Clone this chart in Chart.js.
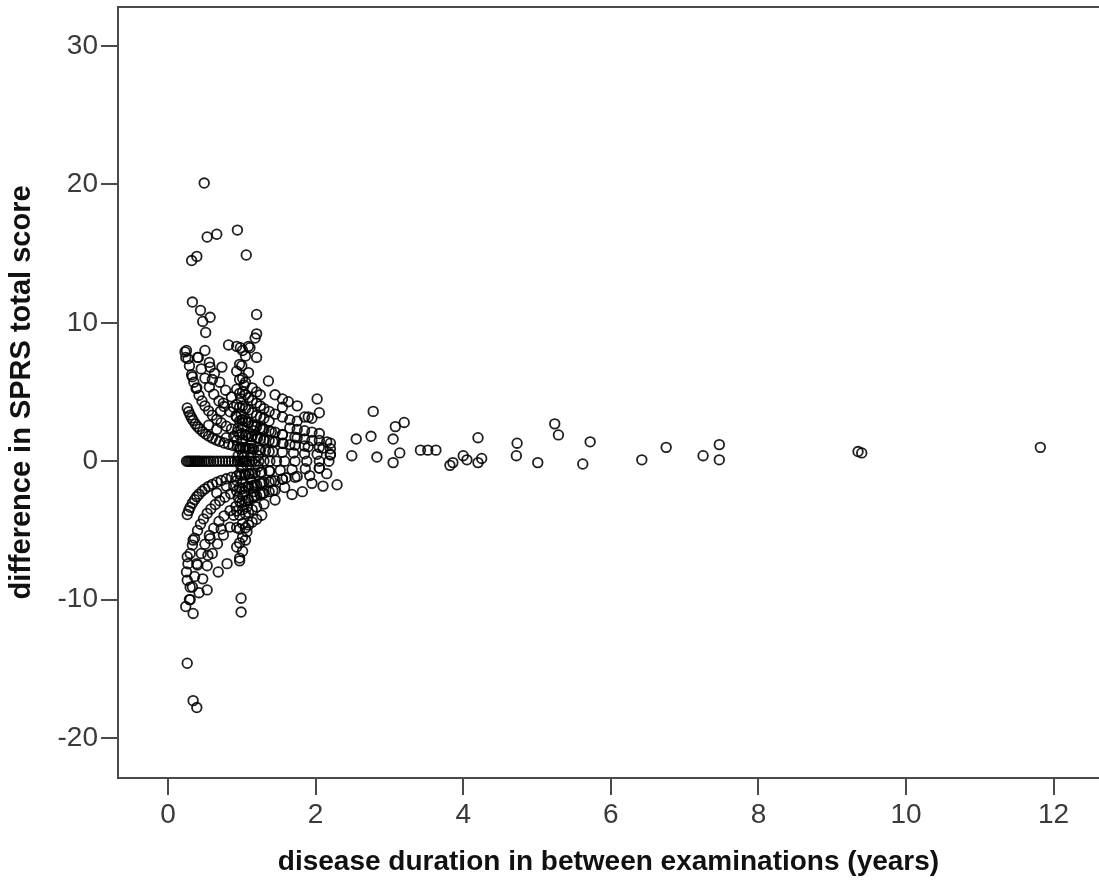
<!DOCTYPE html>
<html>
<head>
<meta charset="utf-8">
<script src="https://cdn.jsdelivr.net/npm/chart.js"></script>
<style>
  html, body { margin: 0; padding: 0; background: #fff; }
  #wrap { width: 1099px; height: 883px; position: relative; }
</style>
</head>
<body>
<div id="wrap"><canvas id="scatter"></canvas></div>
<script>
// [years between examinations, change in SPRS total score]
const zeroChange = [
    [0.25,0],[0.27,0],[0.29,0],[0.31,0],[0.33,0],[0.35,0],[0.37,0],[0.39,0],[0.41,0],[0.43,0],
    [0.46,0],[0.49,0],[0.52,0],[0.55,0],[0.58,0],[0.62,0],[0.66,0],[0.7,0],[0.74,0],[0.78,0],
    [0.82,0],[0.86,0],[0.9,0],[0.94,0],[0.97,0],[1.0,0],[1.02,0],[1.04,0],[1.07,0],[1.1,0],
    [1.14,0],[1.18,0],[1.23,0],[1.3,0],[1.38,0],[1.47,0],[1.58,0],[1.72,0],[1.88,0],[2.05,0],[2.18,0]
];
const riseCurves = [
    [0.26,3.85],[0.28,3.57],[0.3,3.33],[0.32,3.13],[0.34,2.94],[0.37,2.7],[0.4,2.5],[0.43,2.33],
    [0.47,2.13],[0.51,1.96],[0.55,1.82],[0.6,1.67],[0.65,1.54],[0.7,1.43],[0.76,1.32],[0.82,1.22],
    [0.88,1.14],[0.94,1.06],[0.98,1.02],[1.02,0.98],[1.06,0.94],[1.1,0.91],[1.16,0.86],[1.23,0.81],
    [1.32,0.76],[1.42,0.7],[1.55,0.65],[1.7,0.59],[1.85,0.54],[2.02,0.5],[2.2,0.45],
    [0.25,8.0],[0.27,7.41],[0.29,6.9],[0.32,6.25],[0.35,5.71],[0.38,5.26],[0.42,4.76],[0.46,4.35],
    [0.5,4.0],[0.55,3.64],[0.6,3.33],[0.66,3.03],[0.72,2.78],[0.79,2.53],[0.86,2.33],[0.94,2.13],
    [1.0,2.0],[1.06,1.89],[1.13,1.77],[1.21,1.65],[1.3,1.54],[1.42,1.41],[1.56,1.28],[1.72,1.16],
    [1.9,1.05],[2.1,0.95],
    [0.4,7.5],[0.45,6.67],[0.5,6.0],[0.56,5.36],[0.62,4.84],[0.69,4.35],[0.76,3.95],[0.84,3.57],
    [0.92,3.26],[1.0,3.0],[1.08,2.78],[1.17,2.56],[1.28,2.34],[1.4,2.14],[1.55,1.94],[1.72,1.74],
    [0.5,8.0],[0.56,7.14],[0.63,6.35],[0.7,5.71],[0.78,5.13],[0.86,4.65]
];
const fallCurves = [
    [0.26,-3.85],[0.28,-3.57],[0.3,-3.33],[0.33,-3.03],[0.36,-2.78],[0.39,-2.56],[0.42,-2.38],
    [0.46,-2.17],[0.5,-2.0],[0.55,-1.82],[0.6,-1.67],[0.66,-1.52],[0.72,-1.39],[0.79,-1.27],
    [0.86,-1.16],[0.93,-1.08],[0.99,-1.01],[1.04,-0.96],[1.1,-0.91],[1.18,-0.85],[1.27,-0.79],
    [1.38,-0.72],[1.52,-0.66],[1.68,-0.6],[1.86,-0.54],[2.05,-0.49],
    [0.25,-8.0],[0.27,-7.41],[0.3,-6.67],[0.33,-6.06],[0.36,-5.56],[0.4,-5.0],[0.44,-4.55],
    [0.48,-4.17],[0.53,-3.77],[0.58,-3.45],[0.64,-3.13],[0.7,-2.86],[0.77,-2.6],[0.85,-2.35],
    [0.93,-2.15],[1.0,-2.0],[1.08,-1.85],[1.17,-1.71],[1.27,-1.57],[1.4,-1.43],[1.55,-1.29],
    [1.72,-1.16],[1.92,-1.04],
    [0.3,-10.0],[0.33,-9.09],[0.36,-8.33],[0.4,-7.5],[0.45,-6.67],[0.5,-6.0],[0.56,-5.36],
    [0.62,-4.84],[0.69,-4.35],[0.76,-3.95],[0.84,-3.57],[0.92,-3.26],[1.0,-3.0],[1.08,-2.78],
    [1.17,-2.56],[1.28,-2.34],[1.42,-2.11],[1.58,-1.9],
    [0.42,-9.5],[0.47,-8.5],[0.53,-7.55],[0.6,-6.67],[0.67,-5.97],[0.75,-5.33],[0.84,-4.76]
];
const coreCluster = [
    [0.93,8.3],[0.93,6.5],[0.93,5.2],[0.93,4.1],[0.93,3.2],[0.93,1.5],[0.93,-1.4],[0.93,-3.6],
    [0.93,-4.8],[0.93,-6.2],
    [0.97,7.0],[0.97,5.9],[0.97,4.9],[0.97,3.9],[0.97,2.9],[0.97,1.9],[0.97,0.9],[0.97,-0.9],
    [0.97,-1.9],[0.97,-2.9],[0.97,-3.9],[0.97,-4.9],[0.97,-5.9],[0.97,-7.0],
    [1.01,8.0],[1.01,6.0],[1.01,5.0],[1.01,4.0],[1.01,3.0],[1.01,2.5],[1.01,1.5],[1.01,0.5],
    [1.01,-0.5],[1.01,-1.5],[1.01,-2.5],[1.01,-3.5],[1.01,-4.5],[1.01,-5.5],[1.01,-6.5],
    [1.05,7.6],[1.05,5.7],[1.05,4.8],[1.05,3.8],[1.05,2.9],[1.05,1.9],[1.05,1.0],[1.05,-1.0],
    [1.05,-1.9],[1.05,-2.9],[1.05,-3.8],[1.05,-4.8],[1.05,-5.7],
    [1.09,8.3],[1.09,6.4],[1.09,4.6],[1.09,3.7],[1.09,2.8],[1.09,1.8],[1.09,0.9],[1.09,-0.9],
    [1.09,-1.8],[1.09,-2.8],[1.09,-3.7],[1.09,-4.6],
    [1.14,5.3],[1.14,4.4],[1.14,3.5],[1.14,2.6],[1.14,1.8],[1.14,0.9],[1.14,-0.9],[1.14,-1.8],
    [1.14,-2.6],[1.14,-3.5],[1.14,-4.4],
    [1.2,7.5],[1.2,5.0],[1.2,4.2],[1.2,3.3],[1.2,2.5],[1.2,1.7],[1.2,-1.7],[1.2,-2.5],
    [1.2,-3.3],[1.2,-4.2],
    [1.25,4.8],[1.25,4.0],[1.25,3.2],[1.25,2.4],[1.25,1.6],[1.25,0.8],[1.25,-0.8],[1.25,-1.6],
    [1.25,-2.4],[1.27,-3.9],
    [1.3,3.8],[1.3,3.1],[1.3,2.3],[1.3,1.5],[1.3,-1.5],[1.3,-2.3],[1.3,-3.1],
    [0.95,0.4],[0.99,-0.4],[1.03,0.3],[1.07,-0.3],[1.12,0.4],[0.95,2.4],[0.99,3.4],[1.03,-2.2],
    [1.07,-3.3],[0.95,-2.6],[0.99,4.5],[1.03,5.5],[1.07,-5.1],[1.12,-1.3],[1.12,1.3],[1.16,2.2],
    [1.16,-2.2],[1.22,0.4],[1.22,-0.4],[0.89,1.8],[0.89,-1.8],[0.89,3.9],[0.89,-3.9]
];
const spreadRight = [
    [1.37,3.6],[1.37,2.9],[1.37,2.2],[1.37,1.5],[1.37,0.7],[1.37,-0.7],[1.37,-1.5],[1.37,-2.2],
    [1.45,4.8],[1.45,3.4],[1.45,2.1],[1.45,1.4],[1.45,-1.4],[1.45,-2.1],[1.45,-2.8],
    [1.55,4.5],[1.55,3.9],[1.55,3.2],[1.55,1.9],[1.55,1.3],[1.55,-1.3],[1.6,-1.2],
    [1.63,4.3],[1.65,3.0],[1.65,2.4],[1.65,1.2],[1.68,-2.4],
    [1.75,4.0],[1.75,2.9],[1.75,2.3],[1.75,1.7],[1.75,-1.1],[1.82,-2.2],
    [1.85,3.2],[1.85,2.2],[1.85,1.6],[1.85,1.1],[1.9,3.2],
    [1.95,3.1],[1.95,2.1],[1.95,1.5],[1.95,-1.6],
    [2.02,4.5],[2.05,3.5],[2.05,2.0],[2.05,1.5],[2.05,1.0],[2.05,-0.5],[2.1,-1.8],
    [2.15,1.4],[2.2,1.3],[2.2,0.9],[2.2,0.5],[2.15,-0.9],[2.29,-1.7]
];
const outliersHigh = [
    [0.49,20.1],[0.94,16.7],[0.53,16.2],[0.66,16.4],[1.06,14.9],[0.32,14.5],[0.39,14.8],
    [0.33,11.5],[0.44,10.9],[0.57,10.4],[0.47,10.1],[0.51,9.3],[1.2,10.6],[1.2,9.2],[1.18,8.9],
    [0.82,8.4],[0.98,8.2],[1.11,8.2],[0.23,7.9],[0.24,7.5],[0.41,7.5],[0.57,6.8],[0.73,6.8],
    [1.0,6.9],[1.36,5.8],[0.33,6.1],[0.39,5.3],[0.6,5.9],[0.75,4.2],[0.66,2.3],[0.79,1.7],
    [0.55,2.6],[0.71,3.6]
];
const outliersLow = [
    [0.26,-14.6],[0.34,-17.3],[0.39,-17.8],[0.24,-10.5],[0.29,-10.0],[0.34,-11.0],
    [0.99,-9.9],[0.99,-10.9],[0.53,-9.3],[0.26,-8.6],[0.3,-9.1],[0.8,-7.4],[0.68,-8.0],
    [0.54,-6.8],[0.39,-7.4],[0.26,-6.9],[0.34,-5.7],[0.57,-5.6],[0.97,-7.2],[0.66,-2.3],
    [0.79,-1.8],[0.72,-4.9]
];
const longIntervals = [
    [2.49,0.4],[2.55,1.6],[2.75,1.8],[2.78,3.6],[2.83,0.3],[3.05,1.6],[3.08,2.5],[3.2,2.8],
    [3.14,0.6],[3.05,-0.1],[3.42,0.8],[3.52,0.8],[3.63,0.8],[3.82,-0.3],[3.86,-0.1],[4.0,0.4],
    [4.05,0.1],[4.2,1.7],[4.2,-0.1],[4.25,0.2],[4.73,1.3],[4.72,0.4],[5.01,-0.1],[5.24,2.7],
    [5.29,1.9],[5.72,1.4],[5.62,-0.2],[6.42,0.1],[6.75,1.0],[7.25,0.4],[7.47,1.2],[7.47,0.1],
    [9.35,0.7],[9.4,0.6],[11.82,1.0]
];

const xTicks = [0, 2, 4, 6, 8, 10, 12];
const yTicks = [-20, -10, 0, 10, 20, 30];

const allPoints = [].concat(zeroChange, riseCurves, fallCurves, coreCluster,
    spreadRight, outliersHigh, outliersLow, longIntervals)
    .map(p => ({x: p[0], y: p[1]}));

const axisGray = '#4a4a4a';
const fontFamily = '"Liberation Sans", Arial, sans-serif';

// top edge of the frame
const frameTop = {
    id: 'frameTop',
    afterDraw(chart) {
        const {ctx, chartArea} = chart;
        ctx.save();
        ctx.strokeStyle = axisGray;
        ctx.lineWidth = 2;
        ctx.beginPath();
        ctx.moveTo(chartArea.left, chartArea.top);
        ctx.lineTo(chartArea.right, chartArea.top);
        ctx.stroke();
        ctx.restore();
    }
};

new Chart(document.getElementById('scatter'), {
    type: 'scatter',
    data: {
        datasets: [{
            data: allPoints,
            pointRadius: 4.8,
            pointBorderWidth: 1.8,
            borderColor: 'rgba(0,0,0,0.88)',
            backgroundColor: 'rgba(0,0,0,0)'
        }]
    },
    options: {
        responsive: true,
        maintainAspectRatio: false,
        animation: false,
        layout: {autoPadding: false, padding: {top: 7, right: 0, left: 0, bottom: 0}},
        plugins: {
            legend: {display: false},
            tooltip: {enabled: false}
        },
        scales: {
            x: {
                type: 'linear',
                min: -0.678,
                max: 12.615,
                afterBuildTicks: s => { s.ticks = xTicks.map(v => ({value: v})); },
                afterFit: s => { s.height = 105; s.paddingLeft = 0; s.paddingRight = 0; },
                grid: {drawOnChartArea: false, tickLength: 17, color: axisGray, lineWidth: 2},
                border: {color: axisGray, width: 2},
                ticks: {font: {family: fontFamily, size: 28}, color: '#3a3a3a', padding: 3, maxRotation: 0},
                title: {
                    display: true,
                    text: 'disease duration in between examinations (years)',
                    font: {family: fontFamily, size: 28, weight: 'bold'},
                    color: '#111',
                    padding: {bottom: 4}
                }
            },
            y: {
                type: 'linear',
                min: -22.89,
                max: 32.82,
                afterBuildTicks: s => { s.ticks = yTicks.map(v => ({value: v})); },
                afterFit: s => { s.width = 118; s.paddingTop = 0; s.paddingBottom = 0; },
                grid: {drawOnChartArea: false, tickLength: 17, color: axisGray, lineWidth: 2},
                border: {color: axisGray, width: 2},
                ticks: {font: {family: fontFamily, size: 28}, color: '#3a3a3a', padding: 3},
                title: {
                    display: true,
                    text: 'difference in SPRS total score',
                    font: {family: fontFamily, size: 29, weight: 'bold'},
                    color: '#111',
                    padding: {top: 5}
                }
            }
        }
    },
    plugins: [frameTop]
});
</script>
</body>
</html>
